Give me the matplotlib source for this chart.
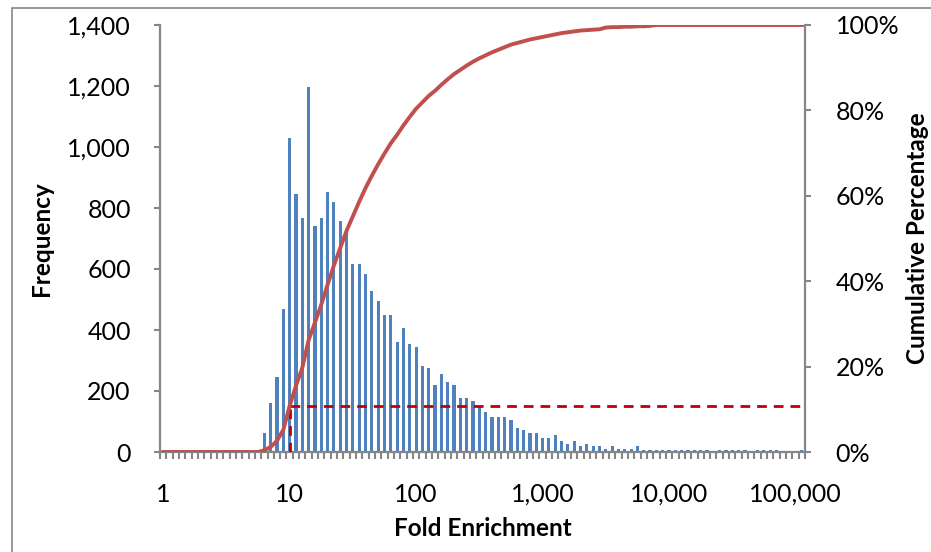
import matplotlib
matplotlib.use("Agg")
import matplotlib.pyplot as plt
from matplotlib.patches import Rectangle
from matplotlib.ticker import FixedLocator, FuncFormatter
import numpy as np

plt.rcParams["font.family"] = ["Lato", "DejaVu Sans"]

# log-spaced bins, 20 per decade from 1 to 100,000 plus an overflow bin
label_pos = [0, 20, 40, 60, 80, 100]
bin_labels = ["1", "10", "100", "1,000", "10,000", "100,000"]

freq = [0] * 14 + [
    4, 0, 61, 160, 246, 469, 1031,
    847, 768, 1197, 740, 768, 854, 819, 758, 732,
    617, 617, 582, 529, 494, 450, 450, 362, 406, 354, 345,
    283, 274, 221, 256, 230, 221, 177, 177, 168, 151,
    132, 115, 115, 115, 106, 80, 71, 62, 62, 45,
    45, 55, 36, 27, 36, 19, 27, 19, 19, 10,
    19, 10, 10, 10, 19,
    8, 8, 8, 8, 8, 8, 8, 8, 8, 8, 8, 0, 8, 8, 8, 8, 8, 0,
    8, 8, 8, 8, 0, 0, 0, 8,
]

cum_pct = [0] * 16 + [
    0.4, 1.2, 2.6, 5.2, 10.8,
    15.5, 19.7, 26.2, 30.3, 34.5, 39.2, 43.7, 47.8, 51.8,
    55.2, 58.6, 61.8, 64.7, 67.4, 69.9, 72.3, 74.3, 76.5, 78.5, 80.4,
    81.9, 83.4, 84.6, 86.0, 87.3, 88.5, 89.5, 90.5, 91.4, 92.2,
    92.9, 93.6, 94.2, 94.8, 95.4, 95.8, 96.2, 96.6, 96.9, 97.2,
    97.5, 97.8, 98.1, 98.3, 98.5, 98.7, 98.8, 98.9, 99.0, 99.4,
    99.5, 99.5, 99.6, 99.6, 99.7, 99.7, 99.8,
] + [100] * 24

cutoff_bin = 20
cutoff_pct = 10.8

GRAY = "#868686"
BLUE = "#4F81BD"
RED = "#C0504D"
DARKRED = "#C00000"

fig = plt.figure(figsize=(9.31, 5.52), dpi=100)
ax = fig.add_axes([160 / 931, 1 - 452 / 552, 645 / 931, 427 / 552])
ax2 = ax.twinx()

x = np.arange(len(freq))
ax.bar(x, freq, width=0.5, color=BLUE, zorder=2)

ax2.plot([cutoff_bin, len(freq) - 0.5], [cutoff_pct, cutoff_pct],
         color=DARKRED, lw=2, ls=(0, (3.5, 2.5)), zorder=2)
ax2.plot([cutoff_bin, cutoff_bin], [0, cutoff_pct],
         color=DARKRED, lw=2, ls=(0, (3.5, 2.5)), zorder=2)
ax2.plot(x, cum_pct, color=RED, lw=2.8, solid_joinstyle="round", zorder=3)

ax.set_xlim(-0.5, len(freq) - 0.5)
ax.set_ylim(0, 1400)
ax2.set_ylim(0, 100)

ax.set_yticks(np.arange(0, 1401, 200))
ax.yaxis.set_major_formatter(FuncFormatter(lambda v, p: f"{v:,.0f}"))
ax2.set_yticks(np.arange(0, 101, 20))
ax2.yaxis.set_major_formatter(FuncFormatter(lambda v, p: f"{v:.0f}%"))

ax.set_xticks(label_pos)
ax.set_xticklabels(bin_labels)
ax.xaxis.set_minor_locator(FixedLocator(np.arange(-0.5, len(freq), 1)))
ax.tick_params(axis="x", which="major", length=0, pad=22, labelsize=18)
ax.tick_params(axis="x", which="minor", length=5, width=1.5, color=GRAY)
ax.tick_params(axis="y", length=4, width=1.5, color=GRAY, pad=17, labelsize=18)
ax2.tick_params(axis="y", length=4, width=1.5, color=GRAY, pad=18, labelsize=18)

for s in ["top", "right"]:
    ax.spines[s].set_visible(False)
for s in ["top", "left", "bottom"]:
    ax2.spines[s].set_visible(False)
for a, s in [(ax, "left"), (ax, "bottom"), (ax2, "right")]:
    a.spines[s].set_color(GRAY)
    a.spines[s].set_linewidth(1.6)

ax.set_xlabel("Fold Enrichment", fontsize=17.5, fontweight="bold", labelpad=8)
ax.set_ylabel("Frequency", fontsize=17.5, fontweight="bold", labelpad=10)
ax2.set_ylabel("Cumulative Percentage", fontsize=17.5, fontweight="bold", labelpad=5)

# chart area border (only top and left visible in the crop)
fig.patches.append(Rectangle((12 / 931, -0.05), 1.1, 1.05 - 8 / 552,
                             transform=fig.transFigure, fill=False,
                             edgecolor=GRAY, lw=1.2))

fig.savefig("out.png", dpi=100)
